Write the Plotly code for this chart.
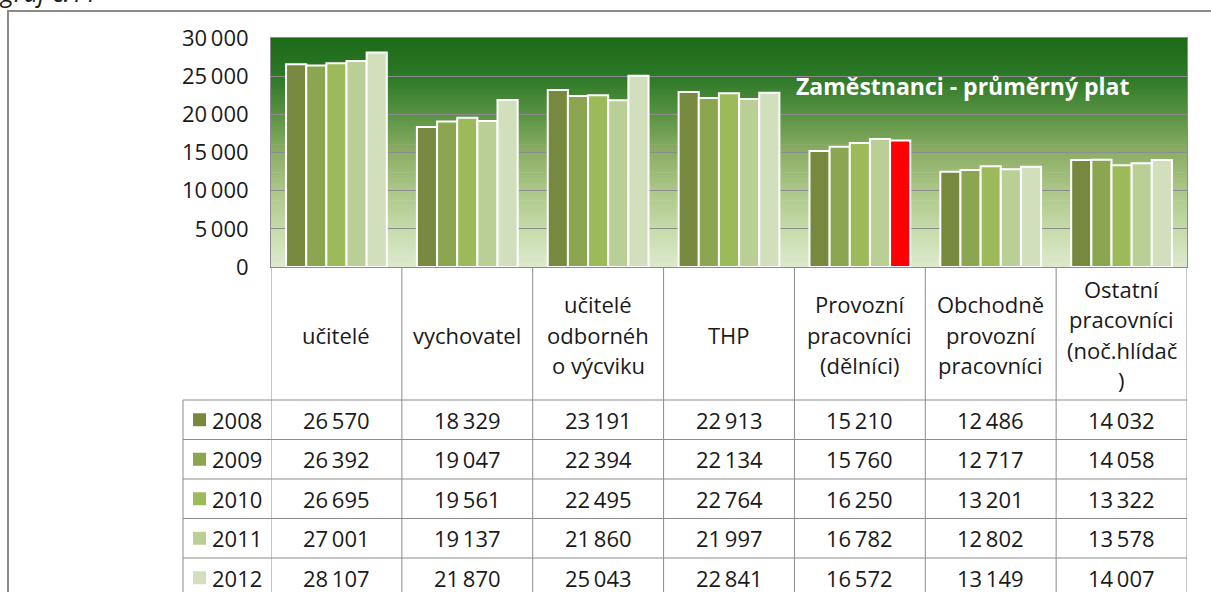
import plotly.graph_objects as go

# ---------------- data ----------------
categories = [
    "učitelé",
    "vychovatel",
    "učitelé odbornéh o výcviku",
    "THP",
    "Provozní pracovníci (dělníci)",
    "Obchodně provozní pracovníci",
    "Ostatní pracovníci (noč.hlídač )",
]
header_lines = [
    ["učitelé"],
    ["vychovatel"],
    ["učitelé", "odbornéh", "o výcviku"],
    ["THP"],
    ["Provozní", "pracovníci", "(dělníci)"],
    ["Obchodně", "provozní", "pracovníci"],
    ["Ostatní", "pracovníci", "(noč.hlídač", ")"],
]
years = ["2008", "2009", "2010", "2011", "2012"]
values_2008 = [26570, 18329, 23191, 22913, 15210, 12486, 14032]
values_2009 = [26392, 19047, 22394, 22134, 15760, 12717, 14058]
values_2010 = [26695, 19561, 22495, 22764, 16250, 13201, 13322]
values_2011 = [27001, 19137, 21860, 21997, 16782, 12802, 13578]
values_2012 = [28107, 21870, 25043, 22841, 16572, 13149, 14007]
series = [values_2008, values_2009, values_2010, values_2011, values_2012]

title_text = "Zaměstnanci - průměrný plat"
caption_text = "graf č.11"

# ---------------- styles ----------------
year_colors = ["#76893f", "#8ba550", "#9dba5a", "#bacf95", "#d2dfbd"]
highlight_color = "#ff0000"
highlight = (4, 4)  # (series index, category index)
FONT = "Open Sans"
TXT = "#1a1a1a"
GRID = "#8c8c8c"

W, H = 1211, 592


def px(x):
    return x / W


def py(y):
    return 1 - y / H


PLOT_L, PLOT_R, PLOT_T, PLOT_B = 271, 1187, 38, 267

fig = go.Figure()

for s, (yr, vals) in enumerate(zip(years, series)):
    colors = [year_colors[s]] * len(categories)
    if s == highlight[0]:
        colors[highlight[1]] = highlight_color
    fig.add_trace(go.Bar(
        x=list(range(len(categories))),
        y=vals,
        name=yr,
        marker=dict(color=colors, line=dict(color="white", width=2)),
        showlegend=False,
        hoverinfo="x+y+name",
    ))

shapes = []

# gradient background of the plot area
stops = [
    (0.0, (221, 234, 206)),
    (0.167, (198, 218, 170)),
    (0.333, (172, 198, 136)),
    (0.5, (140, 174, 102)),
    (0.667, (88, 146, 66)),
    (0.833, (44, 120, 38)),
    (1.0, (29, 106, 24)),
]


def grad(t):
    for (t0, c0), (t1, c1) in zip(stops[:-1], stops[1:]):
        if t0 <= t <= t1:
            f = (t - t0) / (t1 - t0)
            return "rgb(%d,%d,%d)" % tuple(round(a + (b - a) * f) for a, b in zip(c0, c1))
    return "rgb(%d,%d,%d)" % stops[-1][1]


NB = 90
for i in range(NB):
    shapes.append(dict(
        type="rect", xref="x domain", yref="y domain",
        x0=0, x1=1, y0=i / NB, y1=min(1, (i + 1) / NB + 0.003),
        fillcolor=grad((i + 0.5) / NB), line=dict(width=0), layer="below",
    ))

# outer chart border
shapes.append(dict(type="rect", xref="paper", yref="paper",
                   x0=px(8), x1=1.02, y0=-0.05, y1=py(11),
                   line=dict(color="#8a8a8a", width=2), fillcolor="rgba(0,0,0,0)"))

# data table grid
ROW_TOP = 400
ROW_H = 39.5
for k in range(len(categories) + 1):
    shapes.append(dict(type="line", xref="x", yref="paper",
                       x0=k - 0.5, x1=k - 0.5, y0=py(PLOT_B), y1=py(620),
                       line=dict(color=GRID, width=1)))
shapes.append(dict(type="line", xref="paper", yref="paper",
                   x0=px(183), x1=px(183), y0=py(ROW_TOP), y1=py(620),
                   line=dict(color=GRID, width=1)))
for r in range(len(years) + 1):
    yy = ROW_TOP + ROW_H * r
    shapes.append(dict(type="line", xref="paper", yref="paper",
                       x0=px(183), x1=px(PLOT_R), y0=py(yy), y1=py(yy),
                       line=dict(color=GRID, width=1)))

annotations = []

# header (category) cells
HEAD_C = (PLOT_B + ROW_TOP) / 2 + 1
LINE_H = 30.5
for i, lines in enumerate(header_lines):
    n = len(lines)
    for j, ln in enumerate(lines):
        yc = HEAD_C + (j - (n - 1) / 2) * LINE_H
        annotations.append(dict(x=i, xref="x", y=py(yc), yref="paper",
                                text=ln, showarrow=False, xanchor="center", yanchor="middle",
                                font=dict(family=FONT, size=22, color=TXT)))


def fmt(v):
    return f"{v:,}".replace(",", "\u2009")


# value cells + legend keys
for r, (yr, vals) in enumerate(zip(years, series)):
    yc = ROW_TOP + ROW_H * r + ROW_H / 2
    shapes.append(dict(type="rect", xref="paper", yref="paper",
                       x0=px(193), x1=px(206), y0=py(yc + 6.5), y1=py(yc - 6.5),
                       fillcolor=year_colors[r], line=dict(width=0)))
    annotations.append(dict(x=px(210), xref="paper", y=py(yc), yref="paper",
                            text=yr, showarrow=False, xanchor="left", yanchor="middle",
                            font=dict(family=FONT, size=22, color=TXT)))
    for i, v in enumerate(vals):
        annotations.append(dict(x=i, xref="x", y=py(yc), yref="paper",
                                text=fmt(v), showarrow=False, xanchor="center", yanchor="middle",
                                font=dict(family=FONT, size=22, color=TXT)))

# chart title inside plot area
annotations.append(dict(x=px(794), xref="paper", y=py(86), yref="paper",
                        text="<b>" + title_text + "</b>", showarrow=False,
                        xanchor="left", yanchor="middle",
                        font=dict(family=FONT, size=23, color="white")))

# caption (cut off at the top, as in the source image)
annotations.append(dict(x=0, xref="paper", y=py(-8), yref="paper",
                        text="<i>" + caption_text + "</i>", showarrow=False,
                        xanchor="left", yanchor="middle", xshift=-3,
                        font=dict(family=FONT, size=25, color=TXT)))

fig.update_layout(
    width=W, height=H,
    margin=dict(l=0, r=0, t=0, b=0, autoexpand=False),
    paper_bgcolor="white",
    plot_bgcolor="rgba(0,0,0,0)",
    barmode="group",
    bargap=0.23,
    bargroupgap=0,
    separators=",\u2009",
    shapes=shapes,
    annotations=annotations,
    xaxis=dict(
        domain=[px(PLOT_L), px(PLOT_R)],
        range=[-0.5, len(categories) - 0.5],
        showticklabels=False, ticks="", showgrid=False, zeroline=False,
        showline=True, linecolor=GRID, linewidth=1, mirror=True, automargin=False,
    ),
    yaxis=dict(
        domain=[py(PLOT_B), py(PLOT_T)],
        range=[0, 30000], dtick=5000, tick0=0,
        showgrid=True, gridcolor=GRID, gridwidth=1, zeroline=False,
        showline=True, linecolor=GRID, linewidth=1, mirror=True,
        ticks="", separatethousands=True, exponentformat="none",
        ticklabelstandoff=17, automargin=False,
        tickfont=dict(family=FONT, size=22, color=TXT),
    ),
)

fig.write_html("out.html", config={"displayModeBar": False},
               post_script="document.body.style.margin='0';")
